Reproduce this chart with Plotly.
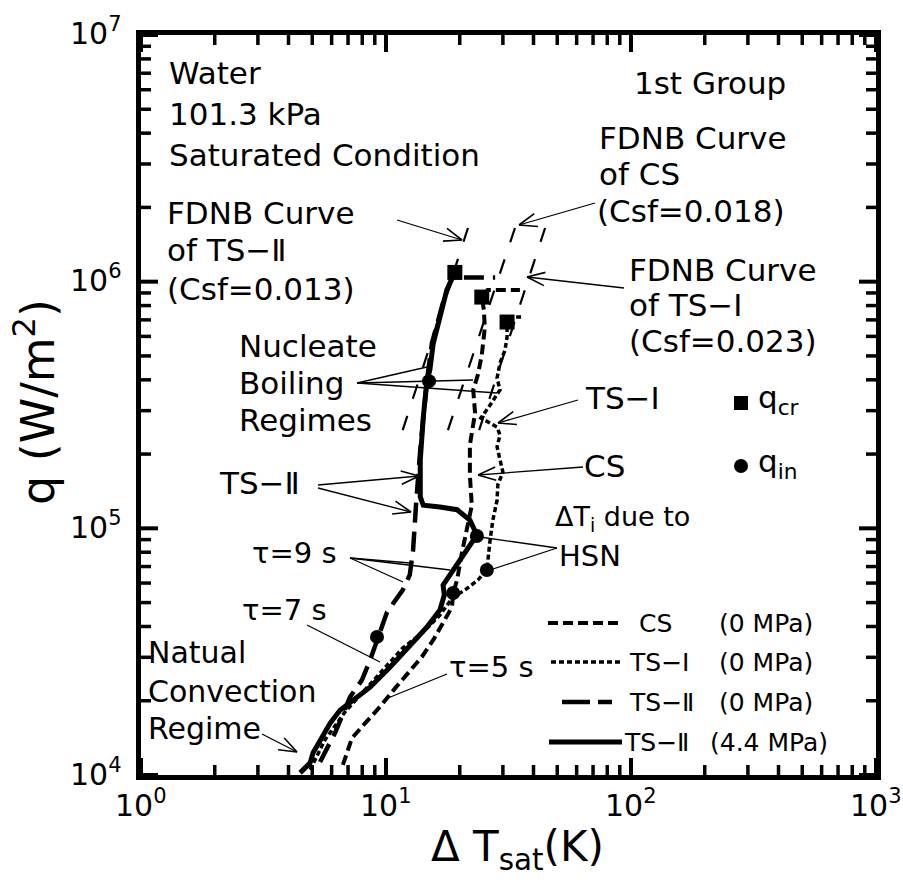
import math
import plotly.graph_objects as go

# ---------------- data ----------------
# Boiling curves: wall superheat dT_sat (K) vs heat flux q (W/m^2)
cs_dt = [6.67, 7.26, 8.21, 9.45, 10.9, 12.3, 14.0, 15.6, 17.1, 18.6, 18.8, 19.5,
         20.4, 21.4, 22.4, 22.0, 22.0, 23.1, 22.7, 23.7, 24.6, 25.3, 25.1, 24.6,
         26.0, 35.2]
cs_q = [1.10e4, 1.41e4, 1.62e4, 1.89e4, 2.25e4, 2.59e4, 3.01e4, 3.53e4, 4.13e4,
        4.80e4, 5.47e4, 6.17e4, 7.94e4, 9.85e4, 1.24e5, 1.64e5, 2.18e5, 2.93e5,
        3.64e5, 4.18e5, 5.04e5, 6.49e5, 7.67e5, 8.66e5, 9.25e5, 9.25e5]

ts1_dt = [4.90, 5.64, 6.80, 8.21, 9.91, 11.7, 14.2, 16.6, 18.8, 21.0, 23.7, 25.8,
          26.6, 27.3, 28.4, 28.6, 30.0, 29.2, 28.4, 29.2, 28.4, 26.6, 24.4, 26.6,
          29.2, 28.4, 29.2, 30.6, 31.2, 31.2, 35.9]
ts1_q = [1.05e4, 1.39e4, 1.80e4, 2.21e4, 2.72e4, 3.27e4, 3.80e4, 4.45e4, 5.27e4,
         5.62e4, 6.17e4, 6.78e4, 8.97e4, 1.08e5, 1.30e5, 1.50e5, 1.69e5, 1.89e5,
         2.14e5, 2.39e5, 2.57e5, 2.67e5, 2.80e5, 3.16e5, 3.64e5, 4.06e5, 4.68e5,
         5.28e5, 5.96e5, 7.19e5, 7.19e5]

ts2_0_dt = [5.38, 6.19, 7.13, 7.98, 8.61, 9.19, 10.1, 11.7, 12.5, 12.9, 13.1,
            13.3, 13.8, 14.3, 14.7, 15.4, 17.2, 18.6, 27.9]
ts2_0_q = [1.13e4, 1.48e4, 2.07e4, 2.43e4, 2.92e4, 3.53e4, 4.58e4, 5.62e4,
           6.47e4, 8.17e4, 1.08e5, 1.30e5, 2.08e5, 3.16e5, 3.99e5, 5.64e5,
           8.42e5, 1.04e6, 1.04e6]

ts2_44_dt = [4.46, 4.58, 4.90, 5.04, 5.38, 5.91, 6.49, 7.33, 8.61, 10.4, 12.9,
             14.7, 16.6, 17.3, 17.1, 18.8, 21.4, 23.5, 22.0, 19.5, 16.6, 14.2,
             13.8, 13.8, 14.2, 14.7, 15.1, 15.6, 16.6, 17.7, 19.1]
ts2_44_q = [1.02e4, 1.05e4, 1.12e4, 1.23e4, 1.39e4, 1.62e4, 1.83e4, 2.01e4,
            2.27e4, 2.74e4, 3.43e4, 3.98e4, 4.67e4, 5.37e4, 5.89e4, 6.78e4,
            8.17e4, 9.40e4, 1.08e5, 1.19e5, 1.22e5, 1.24e5, 1.34e5, 1.89e5,
            2.83e5, 3.99e5, 4.38e5, 5.64e5, 7.19e5, 9.25e5, 1.09e6]

# FDNB correlation lines (end points)
fdnb_q = [2.5e5, 1.65e6]
fdnb_ts2_dt = [11.7, 21.6]
fdnb_cs_dt = [17.9, 33.6]
fdnb_ts1_dt = [24.0, 44.6]

# critical heat flux (squares) and incipience points (circles)
qcr_dt = [19.1, 24.6, 31.2]
qcr_q = [1.09e6, 8.66e5, 6.86e5]
qin_dt = [9.19, 18.8, 14.98, 23.5, 25.8]
qin_q = [3.63e4, 5.47e4, 3.95e5, 9.31e4, 6.78e4]

x_tick_exp = [0, 1, 2, 3]
x_tick_text = ["10<sup>0</sup>", "10<sup>1</sup>", "10<sup>2</sup>", "10<sup>3</sup>"]
y_tick_exp = [4, 5, 6, 7]
y_tick_text = ["10<sup>4</sup>", "10<sup>5</sup>", "10<sup>6</sup>", "10<sup>7</sup>"]

# ---------------- layout helpers ----------------
W, H = 903, 882
L, R, T, B = 141, 876, 35, 775
X_RANGE = [0, 3]
Y_RANGE = [4, 7]
FONT = "DejaVu Sans, Noto Sans CJK JP, sans-serif"


def px(x):
    return (x - L) / (R - L)


def py(y):
    return (B - y) / (B - T)


DASH_CS = "10px,5px"
DASH_TS1 = "5px,3px"
DASH_TS2 = "20px,9px"
DASH_FDNB = "15px,18px"

fig = go.Figure()


def curve(xs, ys, width, dash):
    fig.add_trace(go.Scatter(x=xs, y=ys, mode="lines", showlegend=False,
                             line=dict(color="black", width=width, dash=dash)))


curve(fdnb_ts2_dt, fdnb_q, 2.2, DASH_FDNB)
curve(fdnb_cs_dt, fdnb_q, 2.2, DASH_FDNB)
curve(fdnb_ts1_dt, fdnb_q, 2.2, DASH_FDNB)
curve(cs_dt, cs_q, 4, DASH_CS)
curve(ts1_dt, ts1_q, 3.5, DASH_TS1)
curve(ts2_0_dt, ts2_0_q, 4.5, DASH_TS2)
curve(ts2_44_dt, ts2_44_q, 5, "solid")

fig.add_trace(go.Scatter(x=qcr_dt, y=qcr_q, mode="markers", showlegend=False,
                         marker=dict(symbol="square", size=15, color="black")))
fig.add_trace(go.Scatter(x=qin_dt, y=qin_q, mode="markers", showlegend=False,
                         marker=dict(symbol="circle", size=14, color="black")))

annotations = []
shapes = []


def text(s, x, y, size=31, anchor="left"):
    annotations.append(dict(text=s, x=px(x), y=py(y), xref="paper", yref="paper",
                            xanchor=anchor, yanchor="middle", showarrow=False,
                            font=dict(family=FONT, size=size, color="black")))


def leader(x0, y0, x1, y1, width=1.3):
    shapes.append(dict(type="line", xref="paper", yref="paper",
                       x0=px(x0), y0=py(y0), x1=px(x1), y1=py(y1),
                       line=dict(color="black", width=width)))


def arrow(x0, y0, x1, y1, head=19, spread=0.36):
    # thin line from (x0, y0) to (x1, y1) ending in an open V head
    leader(x0, y0, x1, y1)
    ang = math.atan2(y0 - y1, x0 - x1)
    for s in (-spread, spread):
        leader(x1, y1, x1 + head * math.cos(ang + s), y1 + head * math.sin(ang + s), 1.6)


# labels
text("Water", 167, 73)
text("101.3 kPa", 167, 114)
text("Saturated Condition", 167, 155)
text("1st Group", 710, 83, anchor="center")
text("FDNB Curve", 597, 138)
text("of CS", 597, 174)
text("(Csf=0.018)", 595, 211)
text("FDNB Curve", 165, 213)
text("of TS−Ⅱ", 165, 250)
text("(Csf=0.013)", 165, 289)
text("FDNB Curve", 627, 270)
text("of TS−Ⅰ", 627, 305)
text("(Csf=0.023)", 627, 341)
text("Nucleate", 237, 346)
text("Boiling", 237, 383)
text("Regimes", 237, 420)
text("TS−Ⅰ", 583, 398)
text("CS", 582, 466)
text("TS−Ⅱ", 217, 483)
text("ΔT<sub>i</sub> due to", 553, 518, size=27)
text("HSN", 557, 556, size=29)
text("τ=9 s", 250, 553, size=29)
text("τ=7 s", 240, 610, size=29)
text("τ=5 s", 447, 667, size=29)
text("Natual", 146, 652, size=30)
text("Convection", 146, 691, size=30)
text("Regime", 146, 728, size=30)
text("q<sub>cr</sub>", 756, 400, size=31)
text("q<sub>in</sub>", 756, 463, size=31)

# arrows pointing to curves
arrow(397, 220, 462, 240)
arrow(595, 203, 519, 225)
arrow(624, 288, 527, 277)
arrow(578, 400, 498, 423)
arrow(583, 467, 478, 475)
arrow(318, 485, 419, 476)
arrow(318, 488, 411, 512)
arrow(262, 734, 297, 752)

# plain leader lines
for x1, y1 in [(427, 367), (473, 380), (497, 393)]:
    leader(357, 383, x1, y1)
for x1, y1 in [(410, 563), (403, 582), (450, 570)]:
    leader(350, 558, x1, y1)
leader(307, 625, 380, 662)
leader(447, 674, 388, 698)
for x1, y1 in [(480, 537), (490, 570)]:
    leader(557, 548, x1, y1)

# marker key
shapes.append(dict(type="rect", xref="paper", yref="paper", x0=px(734), x1=px(748),
                   y0=py(410), y1=py(396), fillcolor="black", line=dict(width=0)))
shapes.append(dict(type="circle", xref="paper", yref="paper", x0=px(734), x1=px(748),
                   y0=py(473), y1=py(459), fillcolor="black", line=dict(width=0)))

# line-style key
key_rows = [
    (623, 548, 622, DASH_CS, 4, "CS", 637, "(0 MPa)", 717),
    (662, 551, 622, DASH_TS1, 3.5, "TS−Ⅰ", 627, "(0 MPa)", 717),
    (702, 562, 612, "28px,8px", 4.5, "TS−Ⅱ", 627, "(0 MPa)", 717),
    (742, 549, 622, "solid", 5, "TS−Ⅱ", 622, "(4.4 MPa)", 708),
]
for yk, xa, xb, dash, wd, name, xn, cond, xc in key_rows:
    shapes.append(dict(type="line", xref="paper", yref="paper",
                       x0=px(xa), x1=px(xb), y0=py(yk), y1=py(yk),
                       line=dict(color="black", width=wd, dash=dash)))
    text(name, xn, yk, size=25)
    text(cond, xc, yk, size=25)

# ---- inward tick marks on all four sides (major per decade, minor at 2..9) ----
MAJOR_LEN, MINOR_LEN = 17, 10


def frac(v, rng):
    return (math.log10(v) - rng[0]) / (rng[1] - rng[0])


def log_ticks(rng):
    out = []
    for e in range(rng[0], rng[1] + 1):
        out.append((10 ** e, True))
        if e < rng[1]:
            out += [(m * 10 ** e, False) for m in range(2, 10)]
    return out


for v, major in log_ticks(X_RANGE):
    f = frac(v, X_RANGE)
    ln = (MAJOR_LEN if major else MINOR_LEN) / (B - T)
    for y0, y1 in [(0, ln), (1, 1 - ln)]:
        shapes.append(dict(type="line", xref="paper", yref="paper", x0=f, x1=f,
                           y0=y0, y1=y1,
                           line=dict(color="black", width=4 if major else 3.5)))
for v, major in log_ticks(Y_RANGE):
    f = frac(v, Y_RANGE)
    ln = (MAJOR_LEN if major else MINOR_LEN) / (R - L)
    for x0, x1 in [(0, ln), (1, 1 - ln)]:
        shapes.append(dict(type="line", xref="paper", yref="paper", x0=x0, x1=x1,
                           y0=f, y1=f,
                           line=dict(color="black", width=4 if major else 3.5)))

# decade tick labels in 10^n form
for e, lab in zip(x_tick_exp, x_tick_text):
    annotations.append(dict(text=lab, x=(e - X_RANGE[0]) / (X_RANGE[1] - X_RANGE[0]),
                            y=py(803), xref="paper", yref="paper", xanchor="center",
                            yanchor="middle", showarrow=False,
                            font=dict(family=FONT, size=30, color="black")))
for e, lab in zip(y_tick_exp, y_tick_text):
    annotations.append(dict(text=lab, x=px(124),
                            y=(e - Y_RANGE[0]) / (Y_RANGE[1] - Y_RANGE[0]) + 3 / (B - T),
                            xref="paper", yref="paper", xanchor="right",
                            yanchor="middle", showarrow=False,
                            font=dict(family=FONT, size=30, color="black")))

# axis titles
annotations.append(dict(text="Δ T<sub>sat</sub>(K)", x=px(517), y=py(820),
                        xref="paper", yref="paper", xanchor="center", yanchor="top",
                        showarrow=False, font=dict(family=FONT, size=42, color="black")))
annotations.append(dict(text="q (W/m<sup>2</sup>)", x=px(35), y=py(402),
                        xref="paper", yref="paper", xanchor="center", yanchor="middle",
                        textangle=-90, showarrow=False,
                        font=dict(family=FONT, size=46, color="black")))


def axis(rng):
    return dict(
        type="log", range=rng, showgrid=False, zeroline=False, automargin=False,
        showline=True, linewidth=5, linecolor="black", mirror=True,
        ticks="", showticklabels=False,
    )


fig.update_layout(
    width=W, height=H, autosize=False,
    margin=dict(l=L, r=W - R, t=T, b=H - B, pad=0),
    paper_bgcolor="white", plot_bgcolor="white",
    xaxis=axis(X_RANGE),
    yaxis=axis(Y_RANGE),
    annotations=annotations, shapes=shapes,
)

fig.write_html("out.html")
